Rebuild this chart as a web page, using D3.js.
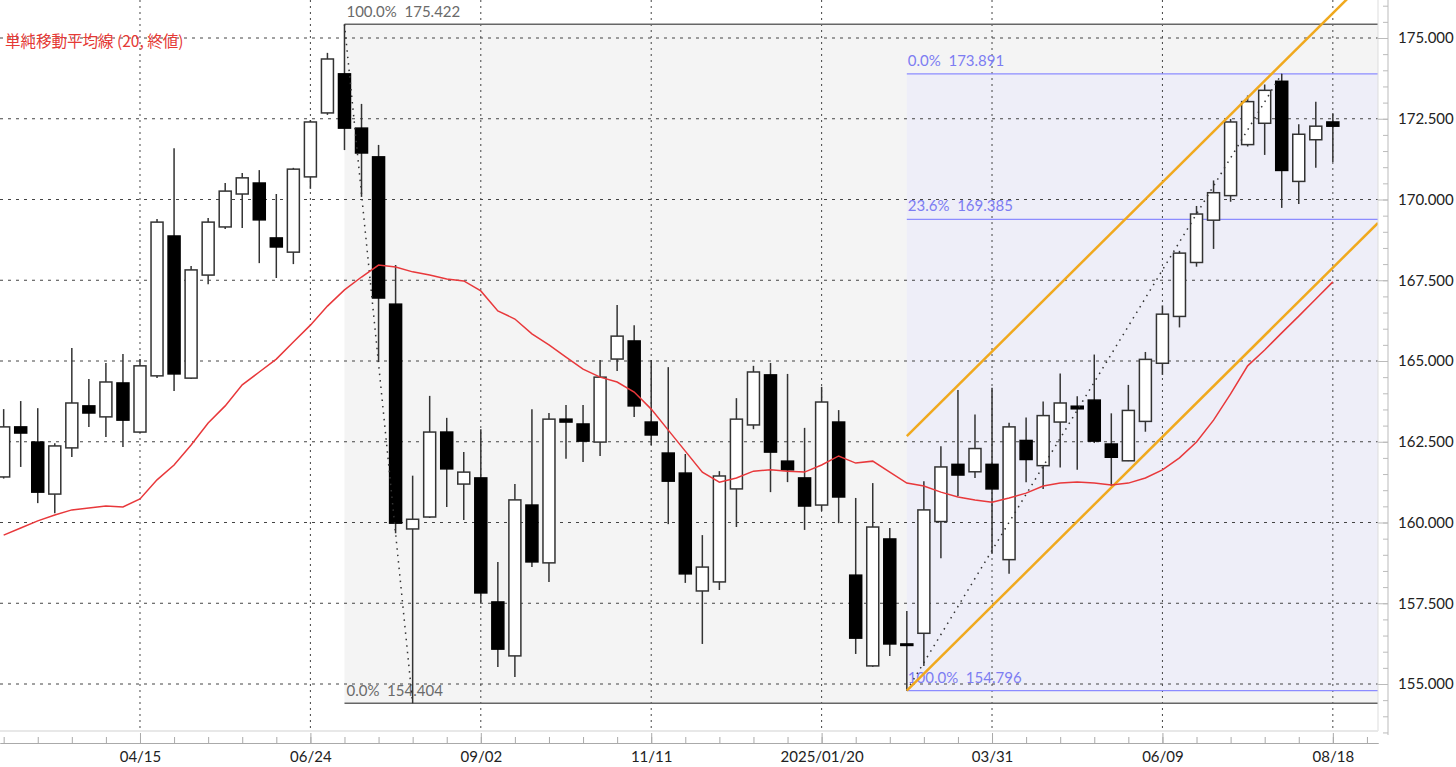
<!DOCTYPE html>
<html>
<head>
<meta charset="utf-8">
<script src="https://cdn.jsdelivr.net/npm/d3@7"></script>
<style>
  body { margin: 0; background: #fff; }
  text { font-family: Lato, "Noto Sans", sans-serif; }
</style>
</head>
<body>
<div id="chart"></div>
<script>
// weekly candles, 2024/02/19 .. 2025/08/18 (index 0..78)
var opens  = [161.41,162.96,162.49,160.88,162.31,163.61,163.27,164.32,162.80,164.54,
              168.87,164.47,167.66,169.15,170.17,170.51,168.81,168.37,170.70,172.68,
              173.89,172.21,171.32,166.76,159.80,160.17,162.80,161.19,161.38,157.54,
              155.87,160.54,158.75,163.20,163.05,162.49,165.06,165.62,163.11,162.15,
              161.53,157.88,158.16,161.04,163.02,164.57,161.90,161.38,160.54,163.11,
              158.37,155.56,159.49,156.24,156.57,160.03,161.80,161.57,161.80,158.85,
              162.54,161.76,163.11,163.60,163.79,162.43,161.91,163.13,164.93,166.38,
              168.05,169.36,170.12,171.70,172.36,173.66,170.56,171.85,172.40];
var highs  = [163.51,163.76,163.54,162.45,165.40,164.44,164.94,165.22,165.06,169.40,
              171.59,167.94,169.43,170.51,170.82,170.91,170.17,170.98,172.46,174.54,
              175.422,172.96,171.69,167.97,161.45,163.92,163.24,162.18,162.89,158.78,
              161.19,163.51,163.39,163.64,163.64,165.03,166.73,166.11,165.03,164.81,
              162.12,159.61,161.59,163.85,164.85,164.94,164.60,162.93,164.20,163.48,
              160.76,161.22,159.83,157.26,161.28,162.36,164.10,163.34,164.17,163.09,
              163.25,163.75,164.61,163.91,165.20,163.38,164.26,165.28,166.72,168.41,
              169.80,170.59,172.49,173.22,173.56,173.891,172.33,173.03,172.67];
var lows   = [161.36,161.72,160.60,160.29,162.03,162.96,162.65,162.34,162.77,164.47,
              164.07,164.44,167.38,169.09,169.12,168.03,167.57,168.00,170.33,172.62,
              171.53,170.08,164.97,159.67,154.404,160.14,160.48,160.08,157.51,155.53,
              155.22,158.62,158.16,161.97,161.87,162.06,164.69,163.27,162.40,159.95,
              158.13,156.24,157.91,159.86,162.89,160.94,161.25,159.77,160.36,159.98,
              155.93,155.53,155.87,154.796,155.56,158.89,160.81,161.38,159.04,158.41,
              161.25,161.04,161.70,161.63,162.46,161.13,161.90,162.81,164.57,166.04,
              167.92,168.47,169.93,171.64,171.38,169.74,169.86,170.98,171.16];
var closes = [162.96,162.77,160.94,162.37,163.70,163.39,164.35,163.17,164.85,169.30,
              164.60,167.82,169.30,170.26,170.67,169.37,168.53,170.94,172.40,174.35,
              172.21,171.44,166.95,159.98,160.10,162.80,161.66,161.56,157.82,156.08,
              160.70,158.78,163.20,163.11,162.52,164.50,165.77,163.61,162.71,161.28,
              158.41,158.62,161.44,163.20,164.66,162.18,161.63,160.51,163.73,160.79,
              156.42,159.86,156.24,156.20,160.39,161.72,161.47,162.29,161.04,162.96,
              161.95,163.31,163.70,163.52,162.52,162.02,163.47,165.05,166.45,168.34,
              169.55,170.21,172.40,173.03,173.38,170.90,172.02,172.27,172.27];
// 20-week simple moving average of closes
var sma20  = [159.61,159.83,160.05,160.23,160.39,160.45,160.51,160.48,160.73,161.32,
              161.78,162.40,163.08,163.61,164.26,164.66,165.06,165.59,166.11,166.70,
              167.20,167.60,167.97,167.91,167.76,167.66,167.54,167.48,167.17,166.55,
              166.30,165.84,165.50,165.12,164.75,164.50,164.35,164.04,163.51,162.86,
              162.21,161.56,161.25,161.38,161.59,161.63,161.59,161.56,161.78,162.06,
              161.84,161.90,161.56,161.22,161.13,160.94,160.79,160.70,160.63,160.76,
              160.91,161.13,161.22,161.25,161.22,161.16,161.22,161.38,161.63,162.00,
              162.49,163.17,163.98,164.85,165.34,165.87,166.39,166.92,167.45];

var dateTicks  = [8, 18, 28, 38, 48, 58, 68, 78];
var dateLabels = ["04/15", "06/24", "09/02", "11/11", "2025/01/20", "03/31", "06/09", "08/18"];
var priceTicks = [155, 157.5, 160, 162.5, 165, 167.5, 170, 172.5, 175];

// fibonacci retracements: [index, price] of start / end, then [ratio, price] levels
var fib1Points = [[20, 175.422], [24, 154.404]];
var fib1Levels = [[1.0, 175.422], [0.0, 154.404]];
var fib2Points = [[53, 154.796], [75, 173.891]];
var fib2Levels = [[1.0, 154.796], [0.236, 169.385], [0.0, 173.891]];

// parallel channel: two points of the lower line, offset of the upper line
var channelLower = [[53, 154.796], [65, 161.08]];
var channelOffset = 7.88;

var width = 1456, height = 767;
var plotW = 1378, plotH = 731;

var svg = d3.select("#chart").append("svg")
  .attr("width", width)
  .attr("height", height);

var x = d3.scaleLinear()
  .domain([-0.215, 80.65])
  .range([0, plotW]);

var y = d3.scaleLinear()
  .domain([155, 175])
  .range([684, 38]);

svg.append("defs").append("clipPath")
  .attr("id", "plotClip")
  .append("rect")
  .attr("width", plotW)
  .attr("height", plotH);

var plot = svg.append("g").attr("clip-path", "url(#plotClip)");

// fib shaded areas
plot.append("rect")
  .attr("x", x(fib1Points[0][0]))
  .attr("y", y(fib1Points[0][1]))
  .attr("width", plotW - x(fib1Points[0][0]))
  .attr("height", y(fib1Points[1][1]) - y(fib1Points[0][1]))
  .attr("fill", "#f4f4f4");

plot.append("rect")
  .attr("x", x(fib2Points[0][0]))
  .attr("y", y(fib2Points[1][1]))
  .attr("width", plotW - x(fib2Points[0][0]))
  .attr("height", y(fib2Points[0][1]) - y(fib2Points[1][1]))
  .attr("fill", "#eeeef8");

// grid
plot.selectAll(".vgrid")
  .data(dateTicks)
  .enter().append("line")
  .attr("class", "vgrid")
  .attr("x1", function(d) { return x(d); })
  .attr("x2", function(d) { return x(d); })
  .attr("y1", 0)
  .attr("y2", plotH)
  .attr("stroke", "#444")
  .attr("stroke-width", 1)
  .attr("stroke-dasharray", "2,4");

plot.selectAll(".hgrid")
  .data(priceTicks)
  .enter().append("line")
  .attr("class", "hgrid")
  .attr("x1", 0)
  .attr("x2", plotW)
  .attr("y1", function(d) { return y(d); })
  .attr("y2", function(d) { return y(d); })
  .attr("stroke", "#444")
  .attr("stroke-width", 1)
  .attr("stroke-dasharray", "3,5");

// fib level lines and labels
plot.selectAll(".fib1line")
  .data(fib1Levels)
  .enter().append("line")
  .attr("x1", x(fib1Points[0][0]))
  .attr("x2", plotW)
  .attr("y1", function(d) { return y(d[1]); })
  .attr("y2", function(d) { return y(d[1]); })
  .attr("stroke", "#666")
  .attr("stroke-width", 1.5);

plot.selectAll(".fib1label")
  .data(fib1Levels)
  .enter().append("text")
  .attr("x", x(fib1Points[0][0]) + 2)
  .attr("y", function(d) { return y(d[1]) - 7; })
  .attr("font-size", 15)
  .attr("fill", "#6a6a6a")
  .style("white-space", "pre")
  .text(function(d) { return d3.format(".1%")(d[0]) + "  " + d3.format(".3f")(d[1]); });

plot.selectAll(".fib2line")
  .data(fib2Levels)
  .enter().append("line")
  .attr("x1", x(fib2Points[0][0]))
  .attr("x2", plotW)
  .attr("y1", function(d) { return y(d[1]); })
  .attr("y2", function(d) { return y(d[1]); })
  .attr("stroke", "#8c8cff")
  .attr("stroke-width", 1.2);

plot.selectAll(".fib2label")
  .data(fib2Levels)
  .enter().append("text")
  .attr("x", x(fib2Points[0][0]) + 1)
  .attr("y", function(d) { return y(d[1]) - 8; })
  .attr("font-size", 15)
  .attr("fill", "#7d7df2")
  .style("white-space", "pre")
  .text(function(d) { return d3.format(".1%")(d[0]) + "  " + d3.format(".3f")(d[1]); });

// candles
var idx = d3.range(opens.length);
var bodyW = 12;

plot.selectAll(".wick")
  .data(idx)
  .enter().append("line")
  .attr("class", "wick")
  .attr("x1", function(i) { return x(i); })
  .attr("x2", function(i) { return x(i); })
  .attr("y1", function(i) { return y(highs[i]); })
  .attr("y2", function(i) { return y(lows[i]); })
  .attr("stroke", "#333")
  .attr("stroke-width", 1.5);

plot.selectAll(".body")
  .data(idx)
  .enter().append("rect")
  .attr("class", "body")
  .attr("x", function(i) { return x(i) - bodyW / 2; })
  .attr("y", function(i) { return y(Math.max(opens[i], closes[i])); })
  .attr("width", bodyW)
  .attr("height", function(i) { return Math.max(1.5, Math.abs(y(opens[i]) - y(closes[i]))); })
  .attr("fill", function(i) { return closes[i] >= opens[i] ? "#fff" : "#000"; })
  .attr("stroke", function(i) { return closes[i] >= opens[i] ? "#333" : "#000"; })
  .attr("stroke-width", 1.5);

// fib diagonals
[fib1Points, fib2Points].forEach(function(pts) {
  plot.append("line")
    .attr("x1", x(pts[0][0]))
    .attr("y1", y(pts[0][1]))
    .attr("x2", x(pts[1][0]))
    .attr("y2", y(pts[1][1]))
    .attr("stroke", "#333")
    .attr("stroke-width", 1.5)
    .attr("stroke-dasharray", "1.5,5");
});

// channel
var slope = (channelLower[1][1] - channelLower[0][1]) / (channelLower[1][0] - channelLower[0][0]);
var chEnd = x.domain()[1];
[0, channelOffset].forEach(function(off) {
  plot.append("line")
    .attr("x1", x(channelLower[0][0]))
    .attr("y1", y(channelLower[0][1] + off))
    .attr("x2", x(chEnd))
    .attr("y2", y(channelLower[0][1] + off + slope * (chEnd - channelLower[0][0])))
    .attr("stroke", "#f0a91e")
    .attr("stroke-width", 2.5);
});

// SMA
plot.append("path")
  .datum(sma20)
  .attr("fill", "none")
  .attr("stroke", "#e8383b")
  .attr("stroke-width", 1.5)
  .attr("d", d3.line()
    .x(function(d, i) { return x(i); })
    .y(function(d) { return y(d); }));

svg.append("text")
  .attr("x", 5)
  .attr("y", 47)
  .attr("font-size", 15.5)
  .attr("fill", "#e53935")
  .style("font-family", "'Noto Sans CJK JP', sans-serif")
  .text("単純移動平均線 (20, 終値)");

// plot border
svg.append("line")
  .attr("x1", plotW).attr("x2", plotW)
  .attr("y1", 0).attr("y2", plotH)
  .attr("stroke", "#ddd");
svg.append("line")
  .attr("x1", 0).attr("x2", plotW)
  .attr("y1", plotH).attr("y2", plotH)
  .attr("stroke", "#e8e8e8")
  .attr("stroke-width", 2);

// bottom axis
var xAxisG = svg.append("g").attr("transform", "translate(0,743)");
xAxisG.call(d3.axisBottom(x)
  .tickValues(d3.range(0, 81, 2))
  .tickSizeInner(-6)
  .tickSizeOuter(0)
  .tickFormat(""));
xAxisG.append("g").call(d3.axisBottom(x)
  .tickValues(dateTicks)
  .tickSizeInner(-10)
  .tickSizeOuter(0)
  .tickPadding(8)
  .tickFormat(function(d, i) { return dateLabels[i]; }));
xAxisG.selectAll("path, line").attr("stroke", "#aaa");
xAxisG.selectAll("text")
  .attr("font-size", 15)
  .attr("fill", "#222")
  .style("font-family", "Lato, sans-serif");

// right axis
var yAxisG = svg.append("g").attr("transform", "translate(1388,0)");
yAxisG.append("line")
  .attr("y1", 0).attr("y2", 735)
  .attr("stroke", "#bbb");
yAxisG.append("g").call(d3.axisLeft(y)
  .tickValues(d3.range(153.5, 176.01, 0.5))
  .tickSizeInner(5)
  .tickSizeOuter(0)
  .tickFormat(""));
yAxisG.append("g").call(d3.axisLeft(y)
  .tickValues(priceTicks)
  .tickSizeInner(10)
  .tickSizeOuter(0)
  .tickFormat(""));
yAxisG.append("g").call(d3.axisRight(y)
  .tickValues(priceTicks)
  .tickSize(0)
  .tickPadding(10)
  .tickFormat(d3.format(".3f")));
yAxisG.selectAll(".domain").remove();
yAxisG.selectAll("line").attr("stroke", "#bbb");
yAxisG.selectAll("text")
  .attr("font-size", 15)
  .attr("fill", "#222")
  .style("font-family", "Lato, sans-serif");
</script>
</body>
</html>
